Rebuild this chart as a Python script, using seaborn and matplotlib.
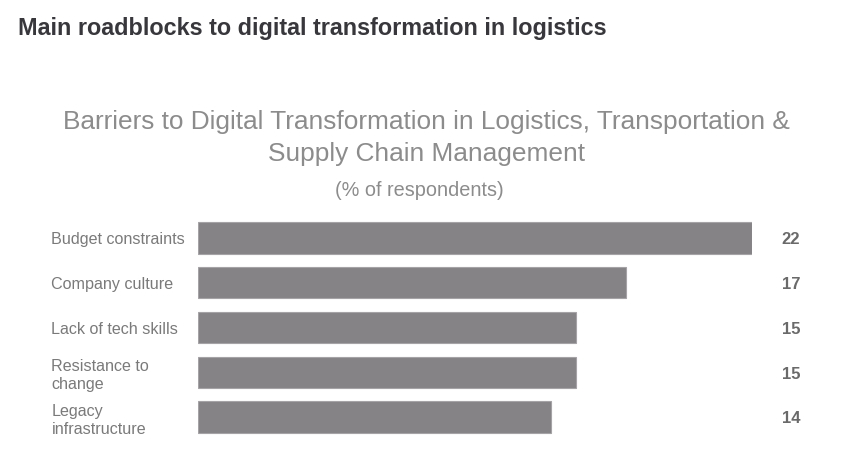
import matplotlib
matplotlib.use("Agg")
import matplotlib.pyplot as plt
import matplotlib.transforms as mtransforms
import seaborn as sns
import pandas as pd

categories = ["Budget constraints", "Company culture", "Lack of tech skills",
              "Resistance to\nchange", "Legacy\ninfrastructure"]
values = [22, 17, 15, 15, 14]

sns.set_theme(style="white")
plt.rcParams['font.family'] = ['Liberation Sans', 'DejaVu Sans']

df = pd.DataFrame({"category": categories, "value": values})

fig = plt.figure(figsize=(8.44, 4.69), dpi=100)
ax = fig.add_axes([198/844, 1 - 439.4/469, 554/844, (439.4 - 215.6)/469])

sns.barplot(data=df, x="value", y="category", color="#858385", saturation=1,
            width=0.7, edgecolor="#a5a3a5", linewidth=0.8, ax=ax)

ax.set_xlim(0, 22)
ax.set_xlabel("")
ax.set_ylabel("")
ax.set_xticks([])
for s in ax.spines.values():
    s.set_visible(False)

ax.tick_params(axis="y", length=0, pad=105.5)
for lab in ax.get_yticklabels():
    lab.set_ha("left")
    lab.set_color("#7a7a7a")
    lab.set_fontsize(11.6)
    lab.set_linespacing(1.25)

trans = mtransforms.blended_transform_factory(ax.transAxes, ax.transData)
for i, v in enumerate(values):
    ax.text(1 + 39/554, i + 0.04, f"{v}", transform=trans, ha="center", va="center",
            fontsize=12, fontweight="bold", color="#6a6a6a")

fig.text(18/844, 1 - 28/469, "Main roadblocks to digital transformation in logistics",
         ha="left", va="center", fontsize=16.8, fontweight="bold", color="#38383c")
fig.text(426/844, 1 - 138/469,
         "Barriers to Digital Transformation in Logistics, Transportation &\nSupply Chain Management",
         ha="center", va="center", fontsize=18.9, color="#8c8c8c", linespacing=1.38)
fig.text(419/844, 1 - 190/469, "(% of respondents)", ha="center", va="center",
         fontsize=14.3, color="#8c8c8c")

fig.savefig("out.png", dpi=100)
